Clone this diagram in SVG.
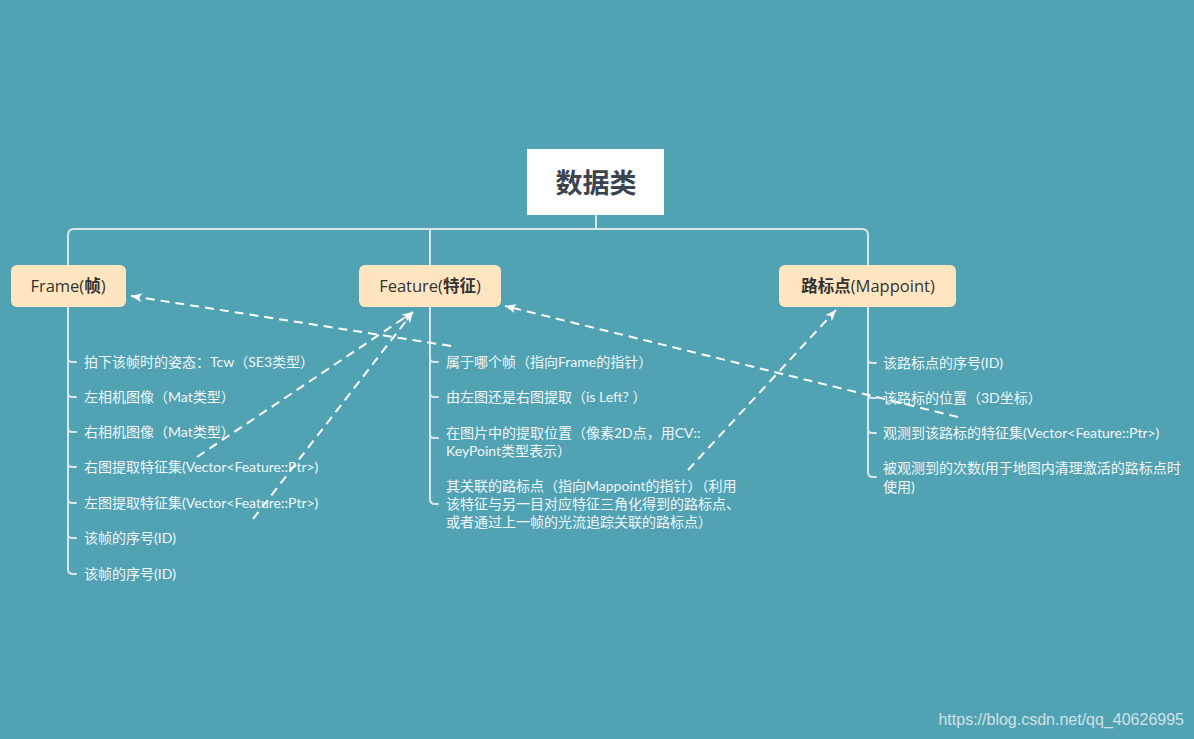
<svg xmlns="http://www.w3.org/2000/svg" width="1194" height="739" viewBox="0 0 1194 739">
<defs>
<marker id="ah" markerUnits="userSpaceOnUse" markerWidth="12" markerHeight="10" refX="11" refY="4.5" orient="auto">
<path d="M0,0 L11,4.5 L0,9 L3,4.5 z" fill="#ffffff"/>
</marker>
<style>
.bg{fill:#51a3b4}
.ln{fill:none;stroke:#d9e5ea;stroke-width:2;stroke-linecap:round}
.dash{fill:none;stroke:#ffffff;stroke-width:2;stroke-dasharray:9 6}
.node{fill:#ffe6c1}
.nt{font-family:"Open Sans","Noto Sans CJK SC",sans-serif;font-size:16.5px;fill:#333333;text-anchor:middle}
.cj{font-weight:bold;font-family:"Noto Sans CJK SC",sans-serif}
.ct{font-family:"Lato","Noto Sans CJK SC",sans-serif;font-size:14px;fill:#f2f6f7}
.wm{font-family:"Liberation Sans",Arial,sans-serif;font-size:16px;fill:#cfe1e6}
</style>
</defs>
<rect class="bg" x="0" y="0" width="1194" height="739"/>
<g id="connectors">
<path class="ln" d="M596,216 L596,229"/>
<path class="ln" d="M68,265 L68,235 Q68,229 74,229 L862,229 Q868,229 868,235 L868,265"/>
<path class="ln" d="M430,229 L430,265"/>
<path class="ln" d="M68,307 L68,569 Q68,574 73,574 L76,574"/>
<path class="ln" d="M68,358 Q68,362 72,362 L76,362 M68,393 Q68,397 72,397 L76,397 M68,428 Q68,432 72,432 L76,432 M68,463 Q68,467 72,467 L76,467 M68,499 Q68,503 72,503 L76,503 M68,534 Q68,538 72,538 L76,538"/>
<path class="ln" d="M430,307 L430,499 Q430,504 435,504 L438,504"/>
<path class="ln" d="M430,358 Q430,362 434,362 L438,362 M430,393 Q430,397 434,397 L438,397 M430,434 Q430,438 434,438 L438,438"/>
<path class="ln" d="M868,307 L868,472 Q868,477 873,477 L876,477"/>
<path class="ln" d="M868,359 Q868,363 872,363 L876,363 M868,394 Q868,398 872,398 L876,398 M868,429 Q868,433 872,433 L876,433"/>
<path class="dash" d="M451,346 L131,296" marker-end="url(#ah)"/>
<path class="dash" d="M197,457 L413,312" marker-end="url(#ah)"/>
<path class="dash" d="M253,519 L413,312" marker-end="url(#ah)"/>
<path class="dash" d="M688,470 L836,310" marker-end="url(#ah)"/>
<path class="dash" d="M958,417 L505,306" marker-end="url(#ah)"/>
</g>
<g id="root">
<rect x="527" y="149" width="137" height="66" fill="#ffffff"/>
<text x="596" y="193" font-family="'Noto Sans CJK SC',sans-serif" font-size="27" font-weight="bold" fill="#3b4350" text-anchor="middle">数据类</text>
</g>
<g id="frame">
<rect class="node" x="11" y="265" width="115" height="42" rx="6"/>
<text class="nt" x="68" y="292">Frame(<tspan class="cj">帧</tspan>)</text>
</g>
<g id="feature">
<rect class="node" x="359" y="265" width="142" height="42" rx="6"/>
<text class="nt" x="430" y="292">Feature(<tspan class="cj">特征</tspan>)</text>
</g>
<g id="mappoint">
<rect class="node" x="779" y="265" width="177" height="42" rx="6"/>
<text class="nt" x="868" y="292"><tspan class="cj">路标点</tspan>(Mappoint)</text>
</g>
<g id="frame-items">
<text class="ct" x="84" y="367">拍下该帧时的姿态：Tcw（SE3类型）</text>
<text class="ct" x="84" y="402">左相机图像（Mat类型）</text>
<text class="ct" x="84" y="437">右相机图像（Mat类型）</text>
<text class="ct" x="84" y="472">右图提取特征集(Vector&lt;Feature::Ptr&gt;)</text>
<text class="ct" x="84" y="508">左图提取特征集(Vector&lt;Feature::Ptr&gt;)</text>
<text class="ct" x="84" y="543">该帧的序号(ID)</text>
<text class="ct" x="84" y="579">该帧的序号(ID)</text>
</g>
<g id="feature-items">
<text class="ct" x="446" y="367">属于哪个帧（指向Frame的指针）</text>
<text class="ct" x="446" y="402">由左图还是右图提取（is Left? ）</text>
<text class="ct" x="446" y="438">在图片中的提取位置（像素2D点，用CV::</text>
<text class="ct" x="446" y="456">KeyPoint类型表示）</text>
<text class="ct" x="446" y="491">其关联的路标点（指向Mappoint的指针）（利用</text>
<text class="ct" x="446" y="509">该特征与另一目对应特征三角化得到的路标点、</text>
<text class="ct" x="446" y="527">或者通过上一帧的光流追踪关联的路标点）</text>
</g>
<g id="mappoint-items">
<text class="ct" x="883" y="368">该路标点的序号(ID)</text>
<text class="ct" x="883" y="403">该路标的位置（3D坐标）</text>
<text class="ct" x="883" y="438">观测到该路标的特征集(Vector&lt;Feature::Ptr&gt;)</text>
<text class="ct" x="883" y="473">被观测到的次数(用于地图内清理激活的路标点时</text>
<text class="ct" x="883" y="492">使用)</text>
</g>
<text class="wm" x="1184" y="725" text-anchor="end">https://blog.csdn.net/qq_40626995</text>
</svg>
